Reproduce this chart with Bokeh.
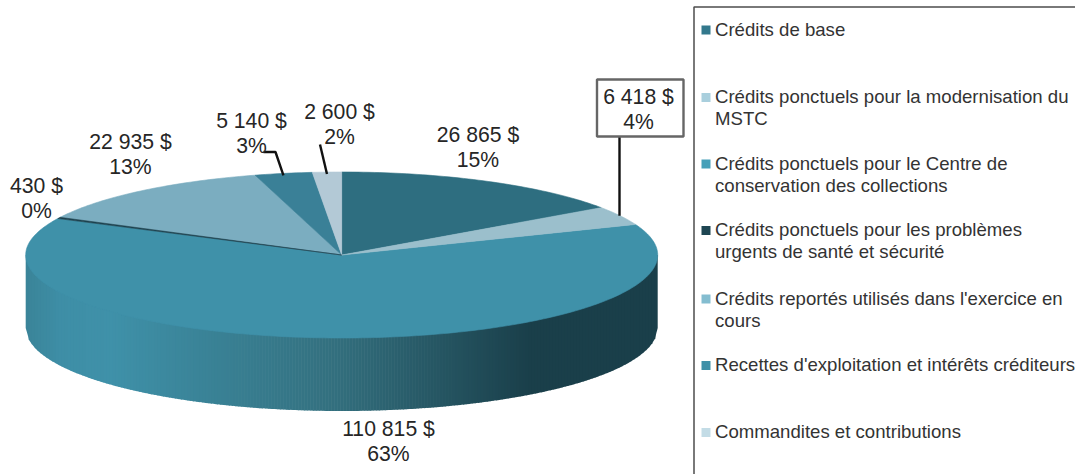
import numpy as np
from bokeh.embed import file_html
from bokeh.resources import INLINE
from bokeh.plotting import figure
from bokeh.models import Range1d
from bokeh.core.properties import value

# ---- data ----
categories = [
    "Crédits de base",
    "Crédits ponctuels pour la modernisation du\nMSTC",
    "Crédits ponctuels pour le Centre de\nconservation des collections",
    "Crédits ponctuels pour les problèmes\nurgents de santé et sécurité",
    "Crédits reportés utilisés dans l'exercice en\ncours",
    "Recettes d'exploitation et intérêts créditeurs",
    "Commandites et contributions",
]
amounts = [26865, 6418, 110815, 430, 22935, 5140, 2600]
percents = [15, 4, 63, 0, 13, 3, 2]

# ---- styles ----
top_colors = ["#2e6e80", "#9bbfcc", "#3f91a9", "#1d4350", "#7badc0", "#3a8097", "#b3c9d6"]
legend_colors = ["#33788c", "#a9cfdd", "#46a0b9", "#1e4652", "#84bdd0", "#3f90a8", "#c3dce6"]
FONT = value("Liberation Sans")
INK = "#262626"
LEGEND_INK = "#333333"

# ---- layout, in picture pixels ----
CX, CY, RX, RY, DEPTH = 341.2, 254.5, 316.0, 83.0, 73.0
label_xy = [(477.5, 134), (638, 96), (388, 428), (36, 185), (130, 141), (251, 120), (339, 111)]
LINE_GAP = 25
legend_y = [28.5, 96, 162.5, 229, 297.5, 364, 431]
legend_gap = 22
wall_stops = [(25, "#3a8498"), (60, "#3e8ea6"), (110, "#3f91a9"), (330, "#33707f"),
              (530, "#1a3f4a"), (658, "#1a3f4a")]

p = figure(width=1075, height=474, output_backend="svg", toolbar_location=None,
           x_range=Range1d(0, 1075), y_range=Range1d(474, 0),
           x_axis_type=None, y_axis_type=None, min_border=0,
           outline_line_color=None, background_fill_color="white",
           border_fill_color="white")
p.grid.visible = False

# angles clockwise from 12 o'clock
cum = np.concatenate([[0], np.cumsum(amounts)]) / sum(amounts) * 2 * np.pi


def ex(t):
    return CX + RX * np.sin(t)


def ey(t):
    return CY - RY * np.cos(t)


# side wall: vertical strips with a horizontal gradient
def rgb(h):
    return np.array([int(h[i:i + 2], 16) for i in (1, 3, 5)], float)


sx, sc = zip(*wall_stops)
sc = np.array([rgb(c) for c in sc])
edges = np.linspace(CX - RX, CX + RX, 212)
xs, ys, cs = [], [], []
for a, b in zip(edges[:-1], edges[1:]):
    b2 = min(b + 0.6, CX + RX)
    ya = CY + DEPTH + RY * np.sqrt(max(0, 1 - ((a - CX) / RX) ** 2))
    yb = CY + DEPTH + RY * np.sqrt(max(0, 1 - ((b2 - CX) / RX) ** 2))
    xs.append([a, b2, b2, a])
    ys.append([CY, CY, yb, ya])
    m = (a + b) / 2
    c = [np.interp(m, sx, sc[:, i]) for i in range(3)]
    cs.append("#%02x%02x%02x" % tuple(int(round(v)) for v in c))
p.patches(xs, ys, fill_color=cs, line_color=None)

# top face, one polygon per slice (largest first so the thin ones stay on top)
order = np.argsort(amounts)[::-1]
for i in order:
    n = max(2, int(np.degrees(cum[i + 1] - cum[i])) + 2)
    t = np.linspace(cum[i], cum[i + 1], n)
    p.patch(np.r_[CX, ex(t)], np.r_[CY, ey(t)], fill_color=top_colors[i],
            line_color=top_colors[i], line_width=0.6)

# leader lines, ending on the rim at the middle of their slice
mid = (cum[:-1] + cum[1:]) / 2
p.line([619, 619], [136, float(ey(mid[1]))], line_color="#111111", line_width=2.4)
p.line([263, 275, float(ex(mid[5]))], [151.5, 151.5, float(ey(mid[5])) + 2],
       line_color="#111111", line_width=2.4)
p.line([319.5, float(ex(mid[6]))], [144, float(ey(mid[6])) + 2], line_color="#111111", line_width=2.4)

# boxed label
p.quad(left=[596.5], right=[683], top=[79], bottom=[136], fill_color="white",
       line_color="#666666", line_width=2.4)

# data labels
lx, ly, lt = [], [], []
for (x, y), a, pc in zip(label_xy, amounts, percents):
    lx += [x, x]
    ly += [y, y + LINE_GAP]
    lt += [f"{a:,}".replace(",", " ") + " $", f"{pc}%"]
p.text(lx, ly, text=lt, text_font=FONT, text_font_size="21.2px", text_color=INK,
       text_align="center", text_baseline="middle")

# legend frame
p.line([1080, 693.5, 693.5], [6.5, 6.5, 480], line_color="#4d4d4d", line_width=1.5)
p.scatter([705.5] * len(categories), [y + 1 for y in legend_y], marker="square", size=9,
          fill_color=legend_colors, line_color=None)
tx, ty, tt = [], [], []
for y, c in zip(legend_y, categories):
    for k, line in enumerate(c.split("\n")):
        tx.append(714.5)
        ty.append(y + k * legend_gap)
        tt.append(line)
p.text(tx, ty, text=tt, text_font=FONT, text_font_size="18.6px", text_color=LEGEND_INK,
       text_align="left", text_baseline="middle")

open("out.html", "w").write(file_html(p, INLINE))
